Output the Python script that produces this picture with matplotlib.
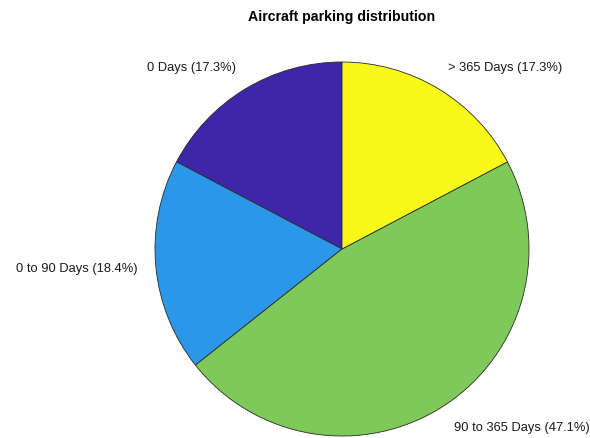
import matplotlib.pyplot as plt

categories = ['0 Days', '0 to 90 Days', '90 to 365 Days', '> 365 Days']
shares = [17.3, 18.4, 47.1, 17.3]
colors = ['#3d26a8', '#2b97e9', '#7ec95a', '#f8f81b']

plt.rcParams['font.family'] = ['Liberation Sans', 'DejaVu Sans']

fig = plt.figure(figsize=(5.9, 4.39), dpi=100)
ax = fig.add_axes([155 / 590, 2 / 439, 374 / 590, 374 / 439])

labels = [f'{c} ({s:.1f}%)' for c, s in zip(categories, shares)]
wedges, texts = ax.pie(shares, labels=labels, colors=colors, startangle=90,
                       counterclock=True, labeldistance=1.1,
                       wedgeprops=dict(edgecolor='#2a2a2a', linewidth=0.6),
                       textprops=dict(fontsize=9.3, color='#1a1a1a'))
for t in texts:
    x, y = t.get_position()
    t.set_va('bottom' if y > 0.5 else ('top' if y < -0.5 else 'center'))

ax.set_xlim(-1, 1)
ax.set_ylim(-1, 1)
ax.set_aspect('equal')

fig.text(342 / 590, 1 - 17 / 439, 'Aircraft parking distribution',
         ha='center', va='center', fontsize=10.2, fontweight='bold')

fig.savefig('out.png', dpi=100)
